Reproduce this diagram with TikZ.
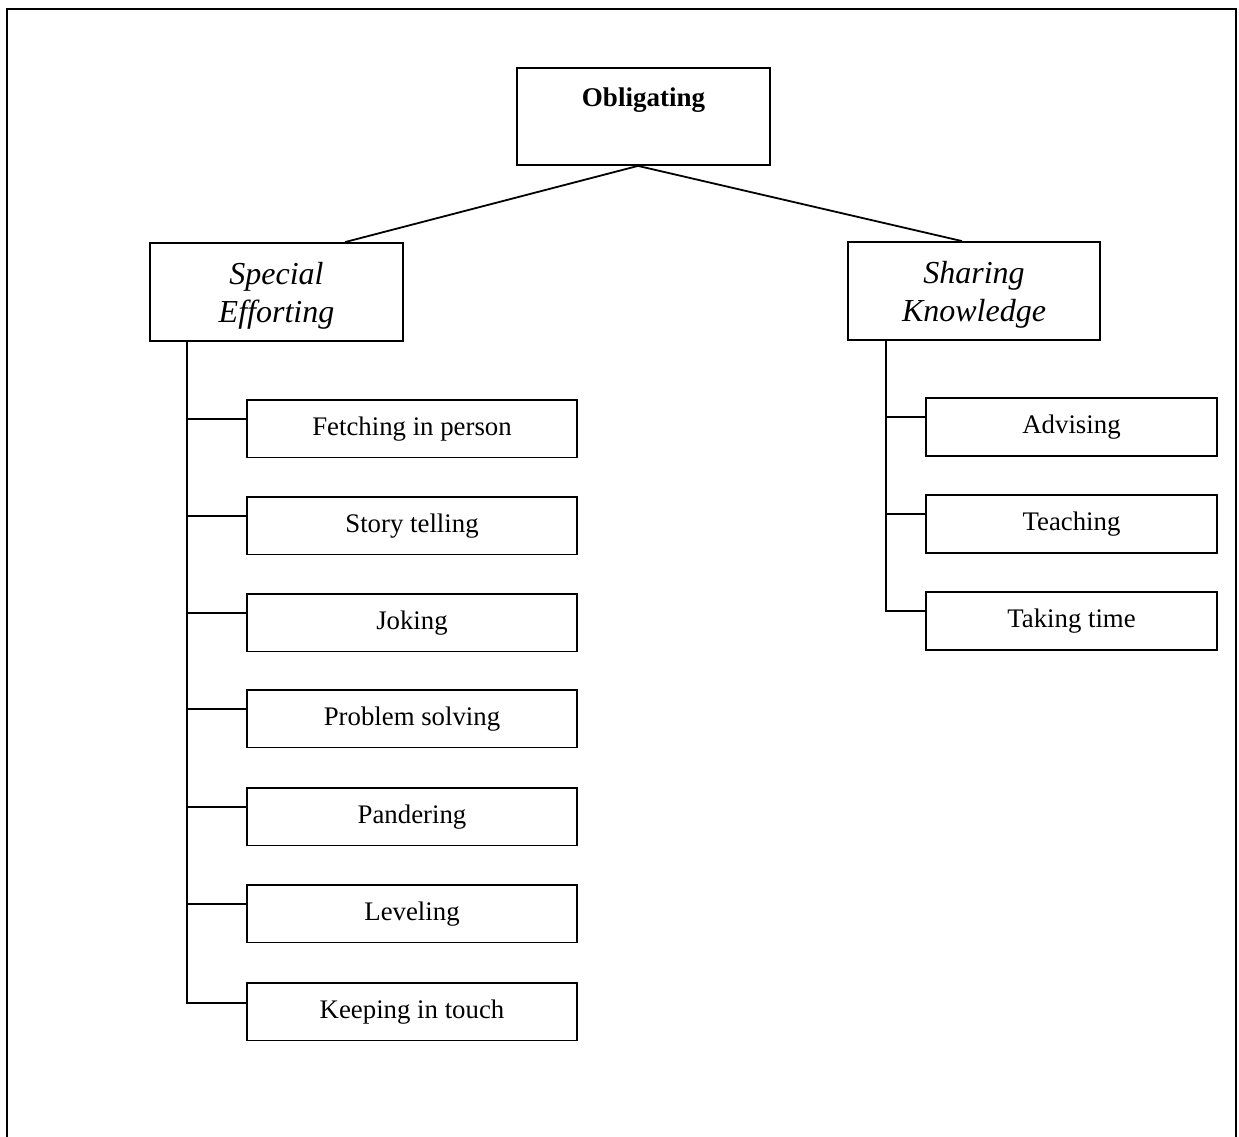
\documentclass[tikz,border=0pt]{standalone}
\usepackage{fontspec}
\setmainfont{Liberation Serif}
\begin{document}
\begin{tikzpicture}[x=1pt,y=-1pt,line width=1.8pt,
  boxstyle/.style={draw,inner sep=0pt,line width=1.8pt},
  kid/.style={boxstyle,minimum width=330pt,minimum height=57.5pt,font=\fontsize{26.8}{32}\selectfont},
  rkid/.style={boxstyle,minimum width=291pt,minimum height=58pt,font=\fontsize{26.8}{32}\selectfont},
  cat/.style={boxstyle,minimum width=253pt,minimum height=98pt},
  cattext/.style={align=center,inner sep=0pt,font=\fontsize{32}{38}\selectfont\itshape}]
\useasboundingbox (0,0) rectangle (1239,1137);
% outer frame
\draw[line width=1.6pt] (7,1137) -- (7,9) -- (1236,9) -- (1236,1137);
% top node
\node[boxstyle,minimum width=253pt,minimum height=97pt] (ob) at (643.5,116.5) {};
\node[font=\fontsize{27}{32}\selectfont\bfseries] (obt) at ([yshift=-33pt]ob.north) {Obligating};
% categories
\node[cat] (se) at (276.5,292) {};
\node[cattext] (set) at ([yshift=-4pt]se.center) {Special\\Efforting};
\node[cat,minimum width=252pt] (sk) at (974,291) {};
\node[cattext] (skt) at ([yshift=-4pt]sk.center) {Sharing\\Knowledge};
\coordinate (top) at ([xshift=-5.5pt]ob.south);
\draw (top) -- ([xshift=68.5pt]se.north);
\draw (top) -- ([xshift=-12pt]sk.north);
% left children
\node[kid] (c1) at (412,428.75) {Fetching in person};
\node[kid] (c2) at (412,525.75) {Story telling};
\node[kid] (c3) at (412,622.75) {Joking};
\node[kid] (c4) at (412,718.75) {Problem solving};
\node[kid] (c5) at (412,816.75) {Pandering};
\node[kid] (c6) at (412,913.75) {Leveling};
\node[kid] (c7) at (412,1011.75) {Keeping in touch};
\coordinate (ls) at ([xshift=38pt]se.south west);
\draw (ls) |- ([yshift=9pt]c7.west);
\foreach \i in {1,...,6}{
  \draw ([yshift=10pt]c\i.west) -- ([yshift=10pt]c\i.west -| ls);
}
% right children
\node[rkid] (r1) at (1071.5,427) {Advising};
\node[rkid] (r2) at (1071.5,524) {Teaching};
\node[rkid] (r3) at (1071.5,621) {Taking time};
\coordinate (rs) at ([xshift=39pt]sk.south west);
\draw (rs) |- ([yshift=10pt]r3.west);
\foreach \i in {1,2}{
  \draw ([yshift=10pt]r\i.west) -- ([yshift=10pt]r\i.west -| rs);
}
\end{tikzpicture}
\end{document}
